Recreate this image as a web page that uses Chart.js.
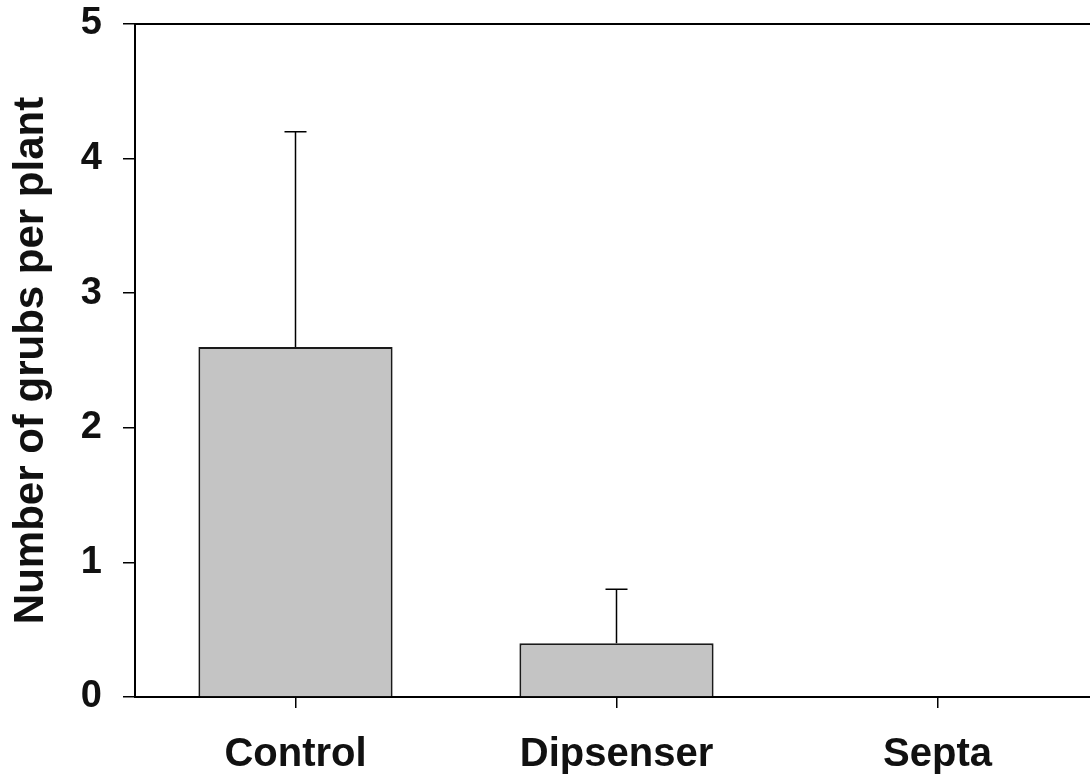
<!DOCTYPE html>
<html>
<head>
<meta charset="utf-8">
<script src="https://cdn.jsdelivr.net/npm/chart.js@4/dist/chart.umd.min.js"></script>
<style>
  html, body { margin: 0; padding: 0; background: #fff; overflow: hidden; }
  canvas { display: block; }
</style>
</head>
<body>
<canvas id="grubChart" width="1098" height="782"></canvas>
<script>
const categories = ['Control', 'Dipsenser', 'Septa'];
const grubMeans = [2.6, 0.4, 0];
const grubErrors = [1.6, 0.4, 0];
const yTicks = [0, 1, 2, 3, 4, 5];

// upper error bars + top frame line
const errorBars = {
    id: 'errorBars',
    afterDatasetsDraw(chart) {
        const ctx = chart.ctx;
        const x = chart.scales.x, y = chart.scales.y;
        ctx.save();
        ctx.strokeStyle = '#000';
        ctx.lineWidth = 1.5;
        grubMeans.forEach((m, i) => {
            if (!grubErrors[i]) return;
            const px = x.getPixelForValue(i);
            const top = y.getPixelForValue(m + grubErrors[i]);
            const base = y.getPixelForValue(m);
            ctx.beginPath();
            ctx.moveTo(px, base);
            ctx.lineTo(px, top);
            ctx.moveTo(px - 11, top);
            ctx.lineTo(px + 11, top);
            ctx.stroke();
        });
        const a = chart.chartArea;
        ctx.lineWidth = 2;
        ctx.beginPath();
        ctx.moveTo(a.left, a.top);
        ctx.lineTo(a.right, a.top);
        ctx.stroke();
        ctx.restore();
    }
};

new Chart(document.getElementById('grubChart'), {
    type: 'bar',
    data: {
        labels: categories,
        datasets: [{
            data: grubMeans,
            backgroundColor: '#c4c4c4',
            borderColor: '#1a1a1a',
            borderWidth: 2,
            categoryPercentage: 0.605,
            barPercentage: 1
        }]
    },
    options: {
        responsive: false,
        animation: false,
        layout: { padding: { top: 24, left: 0, right: 0, bottom: 0 } },
        plugins: {
            legend: { display: false },
            tooltip: { enabled: false }
        },
        scales: {
            x: {
                afterFit: s => { s.height = 85; },
                grid: { display: true, drawOnChartArea: false, offset: false, tickLength: 11, color: '#000', lineWidth: 1.5 },
                border: { color: '#000', width: 2 },
                ticks: { color: '#111', padding: 23, font: { family: 'Arial, "Liberation Sans"', size: 40, weight: 'bold' } }
            },
            y: {
                min: 0,
                max: 5,
                afterFit: s => { s.width = 135; s.paddingTop = 0; s.paddingBottom = 0; },
                afterBuildTicks: s => { s.ticks = yTicks.map(v => ({ value: v })); },
                grid: { display: true, drawOnChartArea: false, tickLength: 12, color: '#000', lineWidth: 1.5 },
                border: { color: '#000', width: 2 },
                ticks: { color: '#111', padding: 21, font: { family: 'Arial, "Liberation Sans"', size: 38, weight: 'bold' } },
                title: {
                    display: true,
                    text: 'Number of grubs per plant',
                    color: '#111',
                    padding: { top: 6, bottom: 0 },
                    font: { family: 'Arial, "Liberation Sans"', size: 42, weight: 'bold' }
                }
            }
        }
    },
    plugins: [errorBars]
});
</script>
</body>
</html>
